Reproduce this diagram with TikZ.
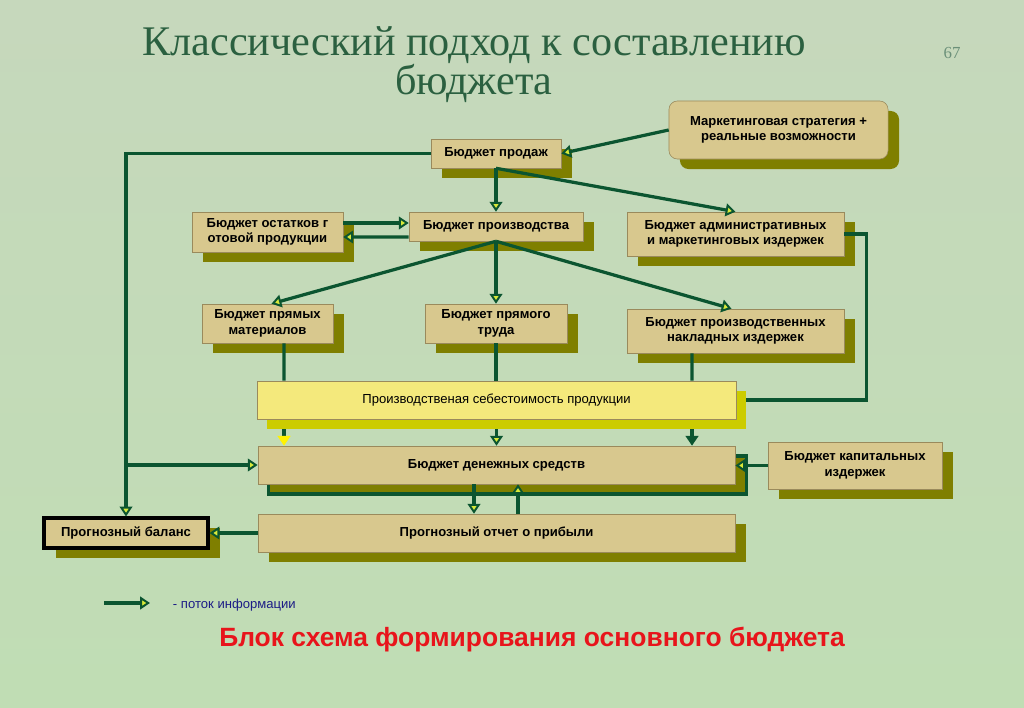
\documentclass[tikz,border=0pt]{standalone}
\usepackage{fontspec}
\setmainfont{Liberation Serif}
\newfontfamily\arialfont{Liberation Sans}
\usetikzlibrary{positioning,calc,arrows.meta,shadows}

\definecolor{flowgreen}{HTML}{0B5530}
\definecolor{tipfill}{HTML}{D8EA3A}
\definecolor{boxfill}{HTML}{D8C88E}
\definecolor{boxedge}{HTML}{9A8A5C}
\definecolor{shadowolive}{HTML}{7F7F00}
\definecolor{costfill}{HTML}{F4E97C}
\definecolor{costshadow}{HTML}{CCCC00}
\definecolor{bgtop}{HTML}{C6D8BC}
\definecolor{bgmid}{HTML}{B8DACB}
\definecolor{bgbottom}{HTML}{C0DDB4}
\definecolor{titlegreen}{HTML}{2B6040}
\definecolor{legendblue}{HTML}{1C1C86}
\definecolor{captionred}{HTML}{E8141B}

\newcommand{\boxfont}{\arialfont\bfseries\fontsize{9.3}{11}\selectfont}
\newcommand{\costfont}{\arialfont\fontsize{9.3}{11}\selectfont}

\tikzset{
	plate/.style={draw=boxedge, fill=boxfill, align=center, inner sep=2pt, font=\boxfont},
	budget/.style={plate, drop shadow={shadow xshift=.275cm, shadow yshift=-.25cm, opacity=1, fill=shadowolive}},
	costbox/.style={plate, fill=costfill, font=\costfont, drop shadow={shadow xshift=.25cm, shadow yshift=-.25cm, opacity=1, fill=costshadow}},
	cashbox/.style={plate, drop shadow={shadow xshift=.275cm, shadow yshift=-.25cm, opacity=1, fill=shadowolive, draw=flowgreen, line width=2.2pt}},
	balbox/.style={plate, draw=black, line width=2.2pt, drop shadow={shadow xshift=.3cm, shadow yshift=-.25cm, opacity=1, fill=shadowolive}},
	flow/.style={draw=flowgreen, line width=2.3pt, -{Triangle[length=7pt, width=9pt, fill=tipfill, line width=1.4pt]}},
	link/.style={draw=flowgreen, line width=2.3pt},
	headline/.style={text=titlegreen, align=center, font=\fontsize{30}{20.5}\selectfont, inner sep=0pt},
}

\begin{document}
\begin{tikzpicture}[x=0.025cm, y=-0.025cm]

	\shade[top color=bgtop, middle color=bgmid, bottom color=bgbottom] (0,0) rectangle (1024,708);
	\useasboundingbox (0,0) rectangle (1024,708);

	\node[headline, anchor=north] (title) at (474,26) {Классический подход к составлению\\бюджета};
	\node[text=titlegreen!70, font=\fontsize{12}{12}\selectfont] (page) at (952,53) {67};

	\node[budget, minimum width=3.25cm, minimum height=0.725cm] (sales) at (496,153.5) {Бюджет продаж};
	\node[budget, rounded corners=6pt, minimum width=5.475cm, minimum height=1.45cm] (mkt) at (778.5,130) {Маркетинговая стратегия +\\реальные возможности};

	\node[budget, minimum width=3.775cm, minimum height=1cm] (stock) at (267.5,232) {Бюджет остатков г\\отовой продукции};
	\node[budget, minimum width=4.35cm, minimum height=0.725cm] (prod) at (496,226.5) {Бюджет производства};
	\node[budget, minimum width=5.425cm, minimum height=1.1cm] (admin) at (735.5,234) {Бюджет административных\\и маркетинговых издержек};

	\node[budget, minimum width=3.275cm, minimum height=0.975cm] (mat) at (267.5,323.5) {Бюджет прямых\\материалов};
	\node[budget, minimum width=3.55cm, minimum height=0.975cm] (labor) at (496,323.5) {Бюджет прямого\\труда};
	\node[budget, minimum width=5.425cm, minimum height=1.1cm] (ovh) at (735.5,331) {Бюджет производственных\\накладных издержек};

	\node[costbox, minimum width=11.975cm, minimum height=0.95cm] (cost) at (496.5,400) {Производственая себестоимость продукции};
	\node[cashbox, minimum width=11.925cm, minimum height=0.95cm] (cash) at (496.5,465) {Бюджет денежных средств};
	\node[budget, minimum width=4.35cm, minimum height=1.175cm] (capex) at (855,465.5) {Бюджет капитальных\\издержек};
	\node[budget, minimum width=11.925cm, minimum height=0.95cm] (forecast) at (496.5,533) {Прогнозный отчет о прибыли};
	\node[balbox, minimum width=4.1cm, minimum height=0.75cm] (balance) at (126,533) {Прогнозный баланс};

	\draw[flow] (mkt.west) -- (sales.east);
	\draw[flow] (sales.west) -| (balance.north);
	\draw[flow] (balance.north |- cash.west) -- (cash.west);
	\draw[flow] (sales.south) -- (prod.north);
	\draw[flow] (sales.south) -- (admin.north);

	\draw[flow] ($(stock.east)+(0,-9)$) -- ($(prod.west)+(0,-3.5)$);
	\draw[flow] ($(prod.west)+(0,10.5)$) -- ($(stock.east)+(0,5)$);

	\draw[flow] (prod.south) -- ($(mat.north)+(4,0)$);
	\draw[flow] (prod.south) -- (labor.north);
	\draw[flow] (prod.south) -- ($(ovh.north)+(-4,0)$);

	\draw[link] ($(mat.south)+(16.5,0)$) -- ($(cost.north)+(-212.5,0)$);
	\draw[link] (labor.south) -- (labor.south |- cost.north);
	\draw[link] ($(ovh.south)+(-43.5,0)$) -- ($(cost.north)+(195.5,0)$);
	\draw[link] (admin.east) -- ++(22,0) |- ($(cost.east)+(10,0)$);

	\draw[link, -{Triangle[length=7pt, width=9pt, color=yellow]}] ($(cost.south)+(-212.5,10)$) -- ($(cash.north)+(-212.5,0)$);
	\draw[flow] ($(cost.south)+(0,10)$) -- (cash.north);
	\draw[link, -{Triangle[length=7pt, width=9pt]}] ($(cost.south)+(195.5,10)$) -- ($(cash.north)+(195.5,0)$);

	\draw[flow] (capex.west) -- (capex.west -| cash.east);
	\draw[flow] ($(cash.south)+(-22.5,0)$) -- ($(forecast.north)+(-22.5,0)$);
	\draw[flow] ($(forecast.north)+(21.5,0)$) -- ($(cash.south)+(21.5,0)$);
	\draw[flow] (forecast.west) -- (balance.east);

	\coordinate (legA) at (104,603);
	\coordinate (legB) at (150,603);
	\draw[flow] (legA) -- (legB);
	\node[anchor=west, text=legendblue, font=\arialfont\fontsize{9.3}{11}\selectfont] (legtext) at (168,605) {- поток информации};

	\node[text=captionred, font=\arialfont\bfseries\fontsize{18.8}{22}\selectfont] (caption) at (532,640) {Блок схема формирования основного бюджета};

\end{tikzpicture}
\end{document}
